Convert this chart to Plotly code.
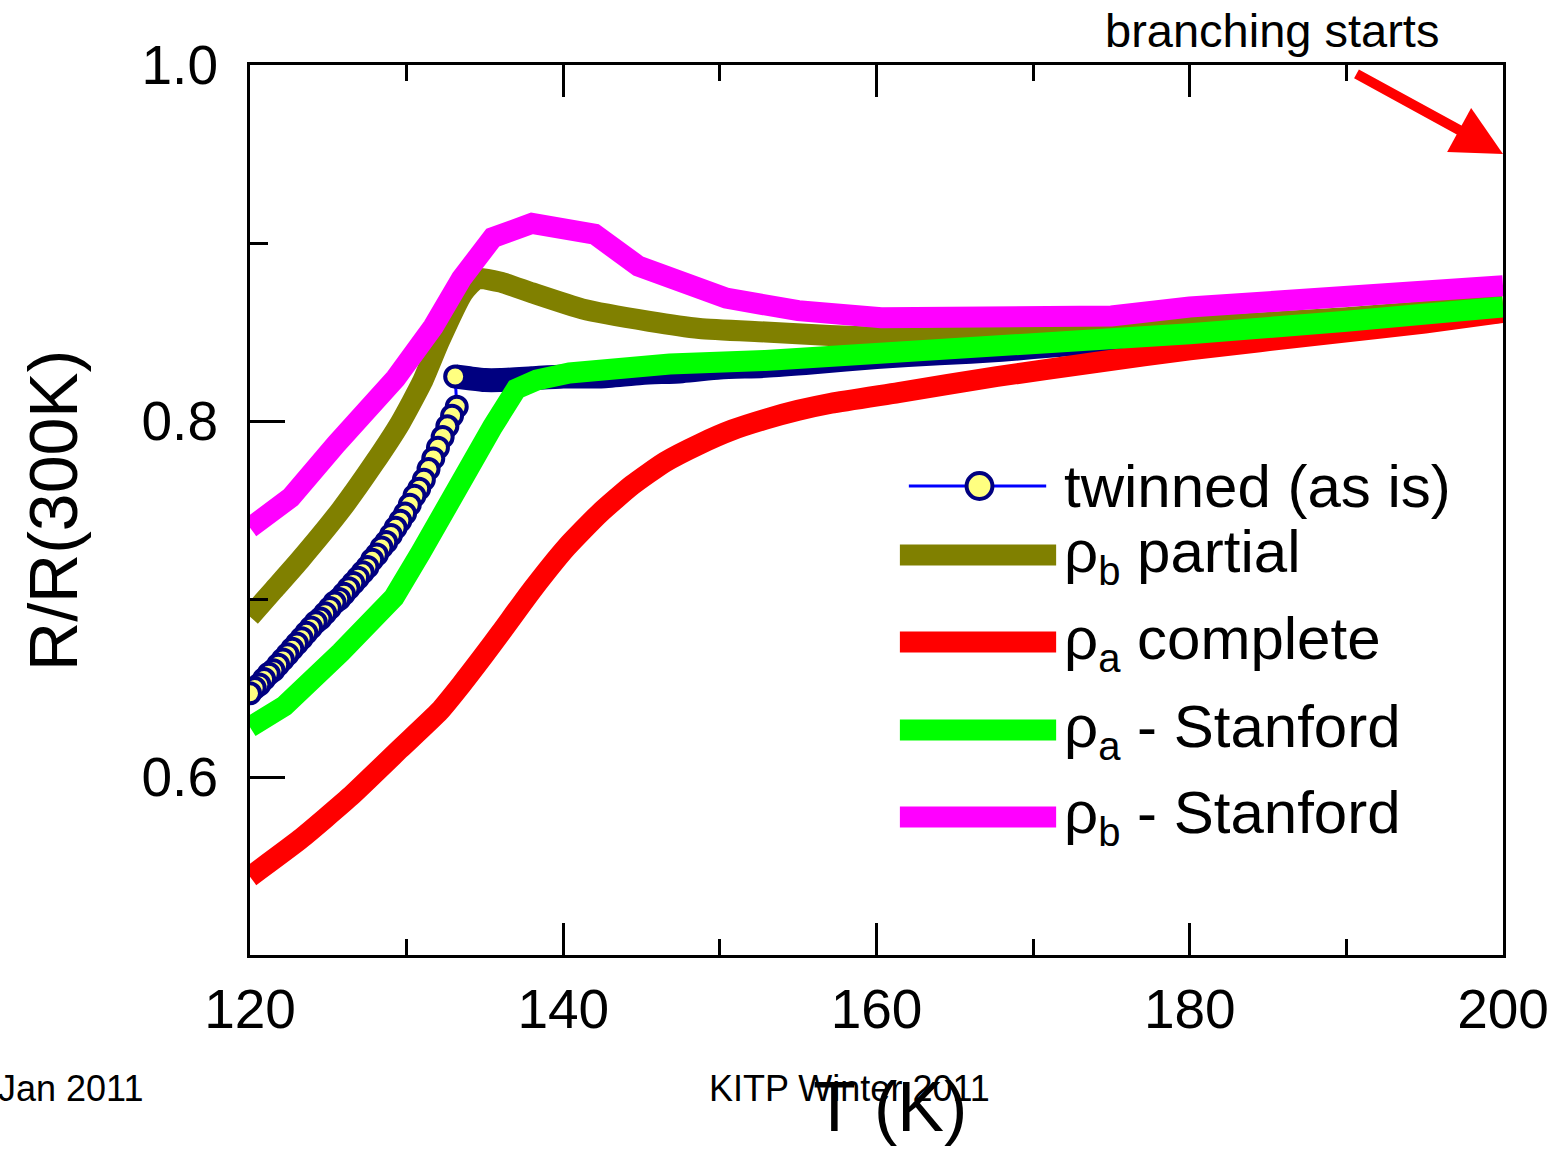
import plotly.graph_objects as go

# ---- data: normalized resistance R/R(300K) vs temperature T (K) ----

# twinned sample (as is): upper branch above the transition, cooling
twin_T_upper = [200, 195, 190, 185, 180, 176, 172, 168, 164, 160, 156, 152.9, 150,
                147.6, 145, 142.3, 140, 138, 136, 135, 134, 133.1]
twin_R_upper = [0.862, 0.858, 0.854, 0.851, 0.848, 0.845, 0.843, 0.840, 0.838, 0.836,
                0.833, 0.831, 0.830, 0.828, 0.827, 0.825, 0.825, 0.824, 0.823, 0.823,
                0.824, 0.825]

# twinned sample: lower branch below the transition, cooling
twin_T_lower = [133.2, 132.9, 132.6, 132.3, 132.0, 131.7, 131.4, 131.1, 130.8, 130.5,
                130.2, 129.9, 129.6, 129.3, 129.0, 128.7, 128.4, 128.1, 127.8, 127.5,
                127.2, 126.9, 126.6, 126.3, 126.0, 125.7, 125.4, 125.1, 124.8, 124.5,
                124.2, 123.9, 123.6, 123.3, 123.0, 122.7, 122.4, 122.1, 121.8, 121.5,
                121.2, 120.9, 120.6, 120.3, 120.0]
twin_R_lower = [0.808, 0.803, 0.797, 0.791, 0.785, 0.779, 0.773, 0.767, 0.762, 0.758,
                0.753, 0.748, 0.744, 0.740, 0.736, 0.732, 0.729, 0.725, 0.722, 0.718,
                0.715, 0.712, 0.709, 0.706, 0.703, 0.700, 0.698, 0.695, 0.692, 0.689,
                0.687, 0.684, 0.681, 0.678, 0.675, 0.672, 0.669, 0.666, 0.663, 0.660,
                0.658, 0.655, 0.652, 0.650, 0.647]

# rho_b, partial detwinning
pb_partial_T = [120, 121.5, 123.2, 125.8, 127.9, 129.6, 131.0, 132.1, 133.6, 134.5,
                136.0, 138.0, 141.2, 145.5, 148.7, 152.9, 157.0, 160.3, 165, 170, 180,
                190, 200]
pb_partial_R = [0.690, 0.705, 0.722, 0.750, 0.776, 0.799, 0.822, 0.845, 0.872, 0.880,
                0.878, 0.872, 0.863, 0.856, 0.852, 0.850, 0.848, 0.847, 0.847, 0.849,
                0.853, 0.858, 0.865]

# rho_a, complete detwinning
pa_complete_T = [120, 123.2, 126.4, 129.6, 132.1, 133.5, 134.9, 136.0, 138.0, 140.2,
                 142.3, 144.4, 146.5, 148.7, 150.8, 152.9, 155.0, 157.1, 161.4, 167.7,
                 174.1, 180, 188.9, 195, 200]
pa_complete_R = [0.544, 0.565, 0.589, 0.616, 0.637, 0.652, 0.668, 0.681, 0.705, 0.729,
                 0.748, 0.764, 0.777, 0.787, 0.795, 0.801, 0.806, 0.810, 0.816, 0.825,
                 0.833, 0.840, 0.849, 0.855, 0.861]

# rho_a, Stanford
pa_stanford_T = [120, 122.2, 125.8, 129.2, 130.9, 133.0, 134.2, 135.5, 137.0, 138.3,
                 140.4, 143.6, 146.8, 152.9, 157.1, 160, 167.7, 180, 190, 200]
pa_stanford_R = [0.628, 0.640, 0.670, 0.701, 0.726, 0.760, 0.782, 0.797, 0.818, 0.823,
                 0.827, 0.830, 0.832, 0.834, 0.836, 0.838, 0.843, 0.849, 0.856, 0.864]

# rho_b, Stanford
pb_stanford_T = [120, 122.6, 125.5, 129.3, 131.7, 133.5, 135.5, 138.0, 142.0, 144.8,
                 150.4, 155, 160.3, 170, 175, 180, 190, 195, 200]
pb_stanford_R = [0.740, 0.757, 0.787, 0.824, 0.853, 0.880, 0.903, 0.911, 0.905, 0.887,
                 0.869, 0.862, 0.858, 0.858, 0.859, 0.864, 0.869, 0.872, 0.876]

x_ticks = [120, 140, 160, 180, 200]
y_ticks = [0.6, 0.8, 1.0]
y_tick_text = ["0.6", "0.8", "1.0"]

legend_labels = ["twinned (as is)", "ρ<sub>b</sub> partial", "ρ<sub>a</sub> complete",
                 "ρ<sub>a</sub> - Stanford", "ρ<sub>b</sub> - Stanford"]

# ---- styling ----
NAVY = "#000080"
YELLOW = "#FFFF80"
BLUE = "#0000FF"
OLIVE = "#808000"
RED = "#FF0000"
GREEN = "#00FF00"
MAGENTA = "#FF00FF"
FONT = "Liberation Sans, Arial, sans-serif"
LW = 21

W, H = 1561, 1152
ML, MR, MT, MB = 250, 52, 65, 197
PW, PH = W - ML - MR, H - MT - MB


def px(xp):
    return (xp - ML) / PW


def py(yp):
    return (H - MB - yp) / PH


fig = go.Figure()

# dense run of overlapping markers above the transition forms a solid band
fig.add_trace(go.Scatter(x=twin_T_upper, y=twin_R_upper, mode="lines",
                         line=dict(color=NAVY, width=24, shape="spline", smoothing=0.6),
                         showlegend=False, hoverinfo="skip"))
fig.add_trace(go.Scatter(x=[twin_T_upper[-1]] + twin_T_lower,
                         y=[twin_R_upper[-1]] + twin_R_lower,
                         mode="lines+markers", name=legend_labels[0],
                         line=dict(color=BLUE, width=3),
                         marker=dict(size=20, color=YELLOW,
                                     line=dict(color=NAVY, width=4)),
                         showlegend=False))
for T, R, col, name, shp in [(pb_partial_T, pb_partial_R, OLIVE, legend_labels[1], "spline"),
                             (pa_complete_T, pa_complete_R, RED, legend_labels[2], "spline"),
                             (pa_stanford_T, pa_stanford_R, GREEN, legend_labels[3], "linear"),
                             (pb_stanford_T, pb_stanford_R, MAGENTA, legend_labels[4], "linear")]:
    fig.add_trace(go.Scatter(x=T, y=R, mode="lines", name=name,
                             line=dict(color=col, width=LW, shape=shp, smoothing=0.5),
                             showlegend=False))

# ---- hand-placed legend ----
row_y = [486, 555, 642, 730, 817]
shapes = []
shapes.append(dict(type="line", xref="paper", yref="paper",
                   x0=px(912), x1=px(1050), y0=py(row_y[0]), y1=py(row_y[0]),
                   line=dict(color=BLUE, width=3)))
shapes.append(dict(type="circle", xref="paper", yref="paper",
                   x0=px(983 - 13), x1=px(983 + 13),
                   y0=py(row_y[0] + 13), y1=py(row_y[0] - 13),
                   fillcolor=YELLOW, line=dict(color=NAVY, width=4)))
for yy, col in zip(row_y[1:], [OLIVE, RED, GREEN, MAGENTA]):
    shapes.append(dict(type="line", xref="paper", yref="paper",
                       x0=px(903), x1=px(1060), y0=py(yy), y1=py(yy),
                       line=dict(color=col, width=21)))

annotations = []
for i, (lab, yy) in enumerate(zip(legend_labels, row_y)):
    txt = lab.replace("<sub>", "<sub><span style='font-size:40px'>").replace(
        "</sub>", "</span></sub>")
    annotations.append(dict(xref="paper", yref="paper", x=px(1066), y=py(yy),
                            xanchor="left", yanchor="middle", text=txt,
                            showarrow=False,
                            font=dict(family=FONT, size=60, color="black")))

# axis titles
annotations.append(dict(xref="paper", yref="paper", x=px(893), y=py(1066),
                        xanchor="center", yanchor="top", text="T (K)",
                        showarrow=False,
                        font=dict(family=FONT, size=70, color="black")))
annotations.append(dict(xref="paper", yref="paper", x=px(52), y=py(510),
                        xanchor="center", yanchor="middle", text="R/R(300K)",
                        textangle=-90, showarrow=False,
                        font=dict(family=FONT, size=68, color="black")))

# footer text
annotations.append(dict(xref="paper", yref="paper", x=px(-5), y=py(1088),
                        xanchor="left", yanchor="middle", text="Jan 2011",
                        showarrow=False,
                        font=dict(family=FONT, size=36, color="black")))
annotations.append(dict(xref="paper", yref="paper", x=px(852), y=py(1088),
                        xanchor="center", yanchor="middle", text="KITP Winter 2011",
                        showarrow=False,
                        font=dict(family=FONT, size=36, color="black")))

# branching annotation with arrow
annotations.append(dict(xref="paper", yref="paper", x=px(1277), y=py(30),
                        xanchor="center", yanchor="middle", text="branching starts",
                        showarrow=False,
                        font=dict(family=FONT, size=47, color="black")))
annotations.append(dict(x=200, y=0.95, xref="x", yref="y", text="",
                        showarrow=True, ax=-148, ay=-81, axref="pixel",
                        arrowcolor=RED, arrowwidth=10, arrowhead=2,
                        arrowsize=1.0, standoff=0))

fig.update_layout(
    width=W, height=H,
    margin=dict(l=ML, r=MR, t=MT, b=MB, pad=0),
    paper_bgcolor="white", plot_bgcolor="white",
    showlegend=False,
    shapes=shapes, annotations=annotations,
    xaxis=dict(range=[120, 200], tickvals=x_ticks,
               ticktext=[str(v) for v in x_ticks],
               ticks="inside", ticklen=32, tickwidth=3, tickcolor="black",
               minor=dict(ticks="inside", dtick=10, tick0=120, ticklen=16,
                          tickwidth=3, tickcolor="black"),
               showline=True, linewidth=3, linecolor="black", mirror="ticks",
               showgrid=False, zeroline=False,
               tickfont=dict(family=FONT, size=55, color="black"),
               ticklabelstandoff=4),
    yaxis=dict(range=[0.5, 1.0], tickvals=y_ticks, ticktext=y_tick_text,
               ticks="inside", ticklen=35, tickwidth=3, tickcolor="black",
               minor=dict(ticks="inside", dtick=0.1, tick0=0.5, ticklen=18,
                          tickwidth=3, tickcolor="black"),
               showline=True, linewidth=3, linecolor="black", mirror=True,
               showgrid=False, zeroline=False,
               tickfont=dict(family=FONT, size=55, color="black"),
               ticklabelstandoff=18),
    yaxis2=dict(range=[0.5, 1.0], overlaying="y", side="right",
                tickvals=[0.6, 0.7, 0.8, 0.9], ticks="inside", ticklen=5,
                tickwidth=3, tickcolor="black", showticklabels=False,
                showgrid=False, zeroline=False, showline=False),
)

fig.write_html("out.html")
